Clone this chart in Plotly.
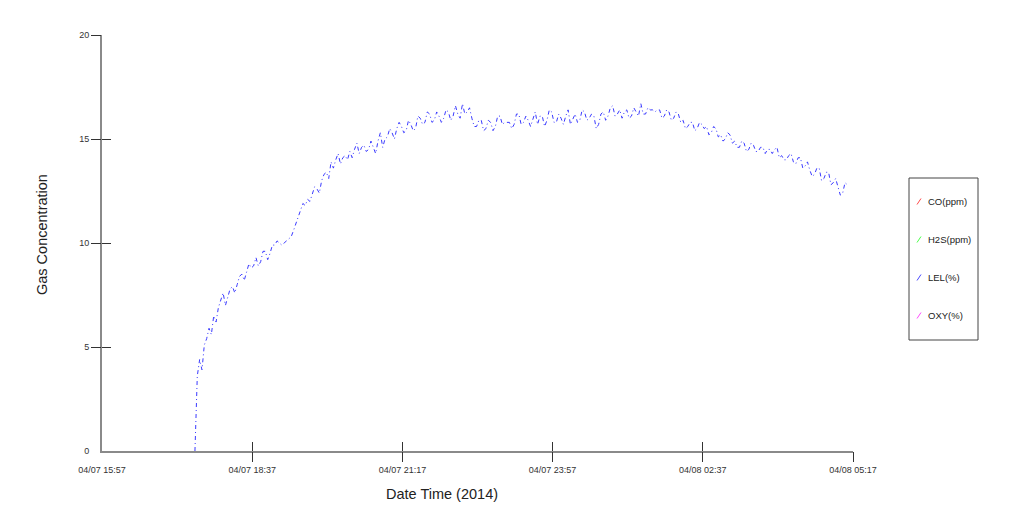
import pandas as pd
import plotly.graph_objects as go

# LEL(%) readings, one every 2.5 minutes starting 04/07 17:36
start_time = "2014-04-07 17:36"
lel = [0.0, 3.6, 4.4, 3.9, 5.1, 5.4, 5.9, 5.6, 6.5, 6.2,
       6.9, 7.3, 7.6, 7.0, 7.4, 7.8, 7.9, 7.6, 8.0, 8.4,
       8.5, 8.2, 8.6, 9.0, 8.8, 8.9, 9.3, 8.9, 9.1, 9.6,
       9.6, 9.2, 9.5, 9.9, 9.9, 10.1, 10.0, 9.9, 10.0, 10.1,
       10.2, 10.3, 10.6, 10.9, 11.2, 11.5, 11.9, 11.8, 12.1, 12.0,
       12.3, 12.7, 12.6, 12.4, 13.0, 13.3, 13.4, 13.1, 13.9, 13.6,
       14.0, 14.3, 13.8, 14.1, 14.2, 14.0, 14.4, 14.1, 14.5, 14.8,
       14.3, 14.6, 14.7, 14.4, 14.5, 14.9, 14.6, 14.3, 14.9, 15.3,
       14.6, 15.0, 15.1, 15.5, 15.3, 15.0, 15.5, 15.8, 15.6, 15.3,
       15.4, 15.9, 15.7, 15.4, 15.5, 16.1, 16.0, 15.7, 15.8, 16.3,
       16.2, 15.8, 15.9, 16.3, 16.1, 15.8, 16.0, 16.4, 16.3, 15.9,
       16.1, 16.6, 16.2, 16.0, 16.7, 16.2, 16.3, 16.5, 16.0, 15.6,
       15.6, 15.9, 15.9, 15.4, 15.5, 15.9, 15.8, 15.4, 15.6, 16.1,
       16.1, 15.7, 15.8, 15.8, 15.8, 15.5, 15.7, 16.2, 16.2, 15.7,
       15.8, 16.1, 15.9, 15.6, 16.0, 16.3, 15.7, 16.1, 16.1, 15.6,
       15.9, 16.4, 16.3, 15.8, 15.8, 16.2, 16.0, 15.7, 16.1, 16.4,
       15.7, 16.0, 16.2, 15.8, 15.9, 16.4, 16.3, 15.9, 16.0, 16.2,
       16.1, 15.5, 15.7, 16.2, 16.3, 15.9, 16.1, 16.5, 16.6, 16.1,
       16.2, 16.4, 16.0, 16.3, 16.4, 16.0, 16.1, 16.5, 16.3, 16.1,
       16.7, 16.2, 16.2, 16.5, 16.4, 16.4, 16.3, 16.4, 16.4, 16.0,
       16.1, 16.4, 16.3, 15.9, 16.0, 16.3, 16.2, 15.8, 15.9, 15.5,
       15.6, 15.8, 15.8, 15.4, 15.5, 15.8, 15.7, 15.5, 15.6, 15.2,
       15.3, 15.6, 15.5, 15.1, 15.2, 14.9, 15.0, 15.3, 15.2, 14.8,
       14.9, 14.6, 14.6, 14.9, 14.8, 14.4, 14.5, 14.8, 14.7, 14.4,
       14.4, 14.6, 14.6, 14.3, 14.5, 14.5, 14.3, 14.5, 14.6, 14.1,
       14.2, 14.0, 14.0, 14.2, 14.3, 13.9, 13.8, 14.1, 14.1, 13.6,
       13.7, 13.9, 13.5, 13.2, 13.3, 13.6, 13.6, 13.0, 13.1, 13.4,
       13.4, 12.8, 12.9, 13.1, 12.7, 12.3, 12.4, 12.9, 12.8]

x_ticks = ["2014-04-07 15:57", "2014-04-07 18:37", "2014-04-07 21:17",
           "2014-04-07 23:57", "2014-04-08 02:37", "2014-04-08 05:17"]
x_labels = ["04/07 15:57", "04/07 18:37", "04/07 21:17",
            "04/07 23:57", "04/08 02:37", "04/08 05:17"]
y_ticks = [0, 5, 10, 15, 20]

legend_names = ["CO(ppm)", "H2S(ppm)", "LEL(%)", "OXY(%)"]
legend_colors = ["#ff4a4a", "#4aff4a", "#4a4aff", "#ff4aff"]

times = pd.date_range(start_time, periods=len(lel), freq="150s")
x_range = [x_ticks[0], x_ticks[-1]]
y_range = [0, 20]

fig = go.Figure()
fig.add_trace(go.Scatter(x=times, y=lel, mode="lines", name="LEL(%)",
                         line=dict(color="#3a3aff", width=1, dash="4px,3px,1px,3px"),
                         showlegend=False))
# invisible traces so the overlay tick axes get drawn
fig.add_trace(go.Scatter(x=[None], y=[None], xaxis="x2", yaxis="y2", showlegend=False))
fig.add_trace(go.Scatter(x=[None], y=[None], xaxis="x3", yaxis="y3", showlegend=False))

font = "Liberation Sans, Arial, sans-serif"
tick_font = dict(family=font, size=9, color="#333")

main_x = dict(type="date", range=x_range, tickvals=x_ticks, ticktext=x_labels,
              ticks="", showgrid=False, zeroline=False, showline=True,
              linecolor="#8a8a8a", linewidth=2, tickfont=tick_font,
              ticklabelstandoff=9)
main_y = dict(range=y_range, tickvals=y_ticks, ticks="", showgrid=False,
              zeroline=False, showline=True, linecolor="#8a8a8a", linewidth=2,
              tickfont=tick_font, ticklabelstandoff=9)


def tick_axis(kind, side, length, overlay):
    vals = x_ticks[1:] if kind == "x" else y_ticks[1:]
    ax = dict(range=x_range if kind == "x" else y_range, tickvals=vals,
              ticks=side, ticklen=length, tickcolor="#333", tickwidth=1,
              showticklabels=False, showgrid=False, zeroline=False,
              showline=False, overlaying=overlay)
    if kind == "x":
        ax["type"] = "date"
    return ax


# the page body adds 8px on the left and top, so margins are trimmed by that
fig.update_layout(
    width=1016, height=511,
    margin=dict(l=94, r=171, t=27, b=68),
    paper_bgcolor="white", plot_bgcolor="white",
    xaxis=main_x, yaxis=main_y,
    xaxis2=tick_axis("x", "outside", 10, "x"),
    yaxis2=tick_axis("y", "outside", 10, "y"),
    xaxis3=tick_axis("x", "inside", 9, "x"),
    yaxis3=tick_axis("y", "inside", 9, "y"),
)
fig.layout.xaxis2.anchor = "y2"
fig.layout.yaxis2.anchor = "x2"
fig.layout.xaxis3.anchor = "y3"
fig.layout.yaxis3.anchor = "x3"

# positions below are in screen pixels of the reference, converted to paper
plot_w, plot_h, left, bottom = 751, 416, 102, 451


def px(xp):
    return (xp - left) / plot_w


def py(yp):
    return (bottom - yp) / plot_h


# axis titles
fig.add_annotation(text="Date Time (2014)", xref="paper", yref="paper",
                   x=px(442), y=py(494), xanchor="center", yanchor="middle",
                   showarrow=False, font=dict(family=font, size=14.5, color="#222"))
fig.add_annotation(text="Gas Concentration", xref="paper", yref="paper",
                   x=px(42), y=py(235), xanchor="center", yanchor="middle",
                   textangle=-90, showarrow=False,
                   font=dict(family=font, size=14.5, color="#222"))

# legend box drawn by hand (diagonal line symbols)
fig.add_shape(type="rect", xref="paper", yref="paper",
              x0=px(909), x1=px(978), y0=py(340), y1=py(178),
              line=dict(color="#444", width=1), fillcolor="white")
legend_rows = [201.5, 239.5, 277.5, 315.5]
for name, color, row in zip(legend_names, legend_colors, legend_rows):
    fig.add_shape(type="line", xref="paper", yref="paper",
                  x0=px(917), x1=px(921), y0=py(row + 3), y1=py(row - 3),
                  line=dict(color=color, width=1))
    fig.add_annotation(text=name, xref="paper", yref="paper",
                       x=px(926), y=py(row), xanchor="left", yanchor="middle",
                       showarrow=False,
                       font=dict(family=font, size=9.5, color="#222"))

fig.write_html("out.html")
